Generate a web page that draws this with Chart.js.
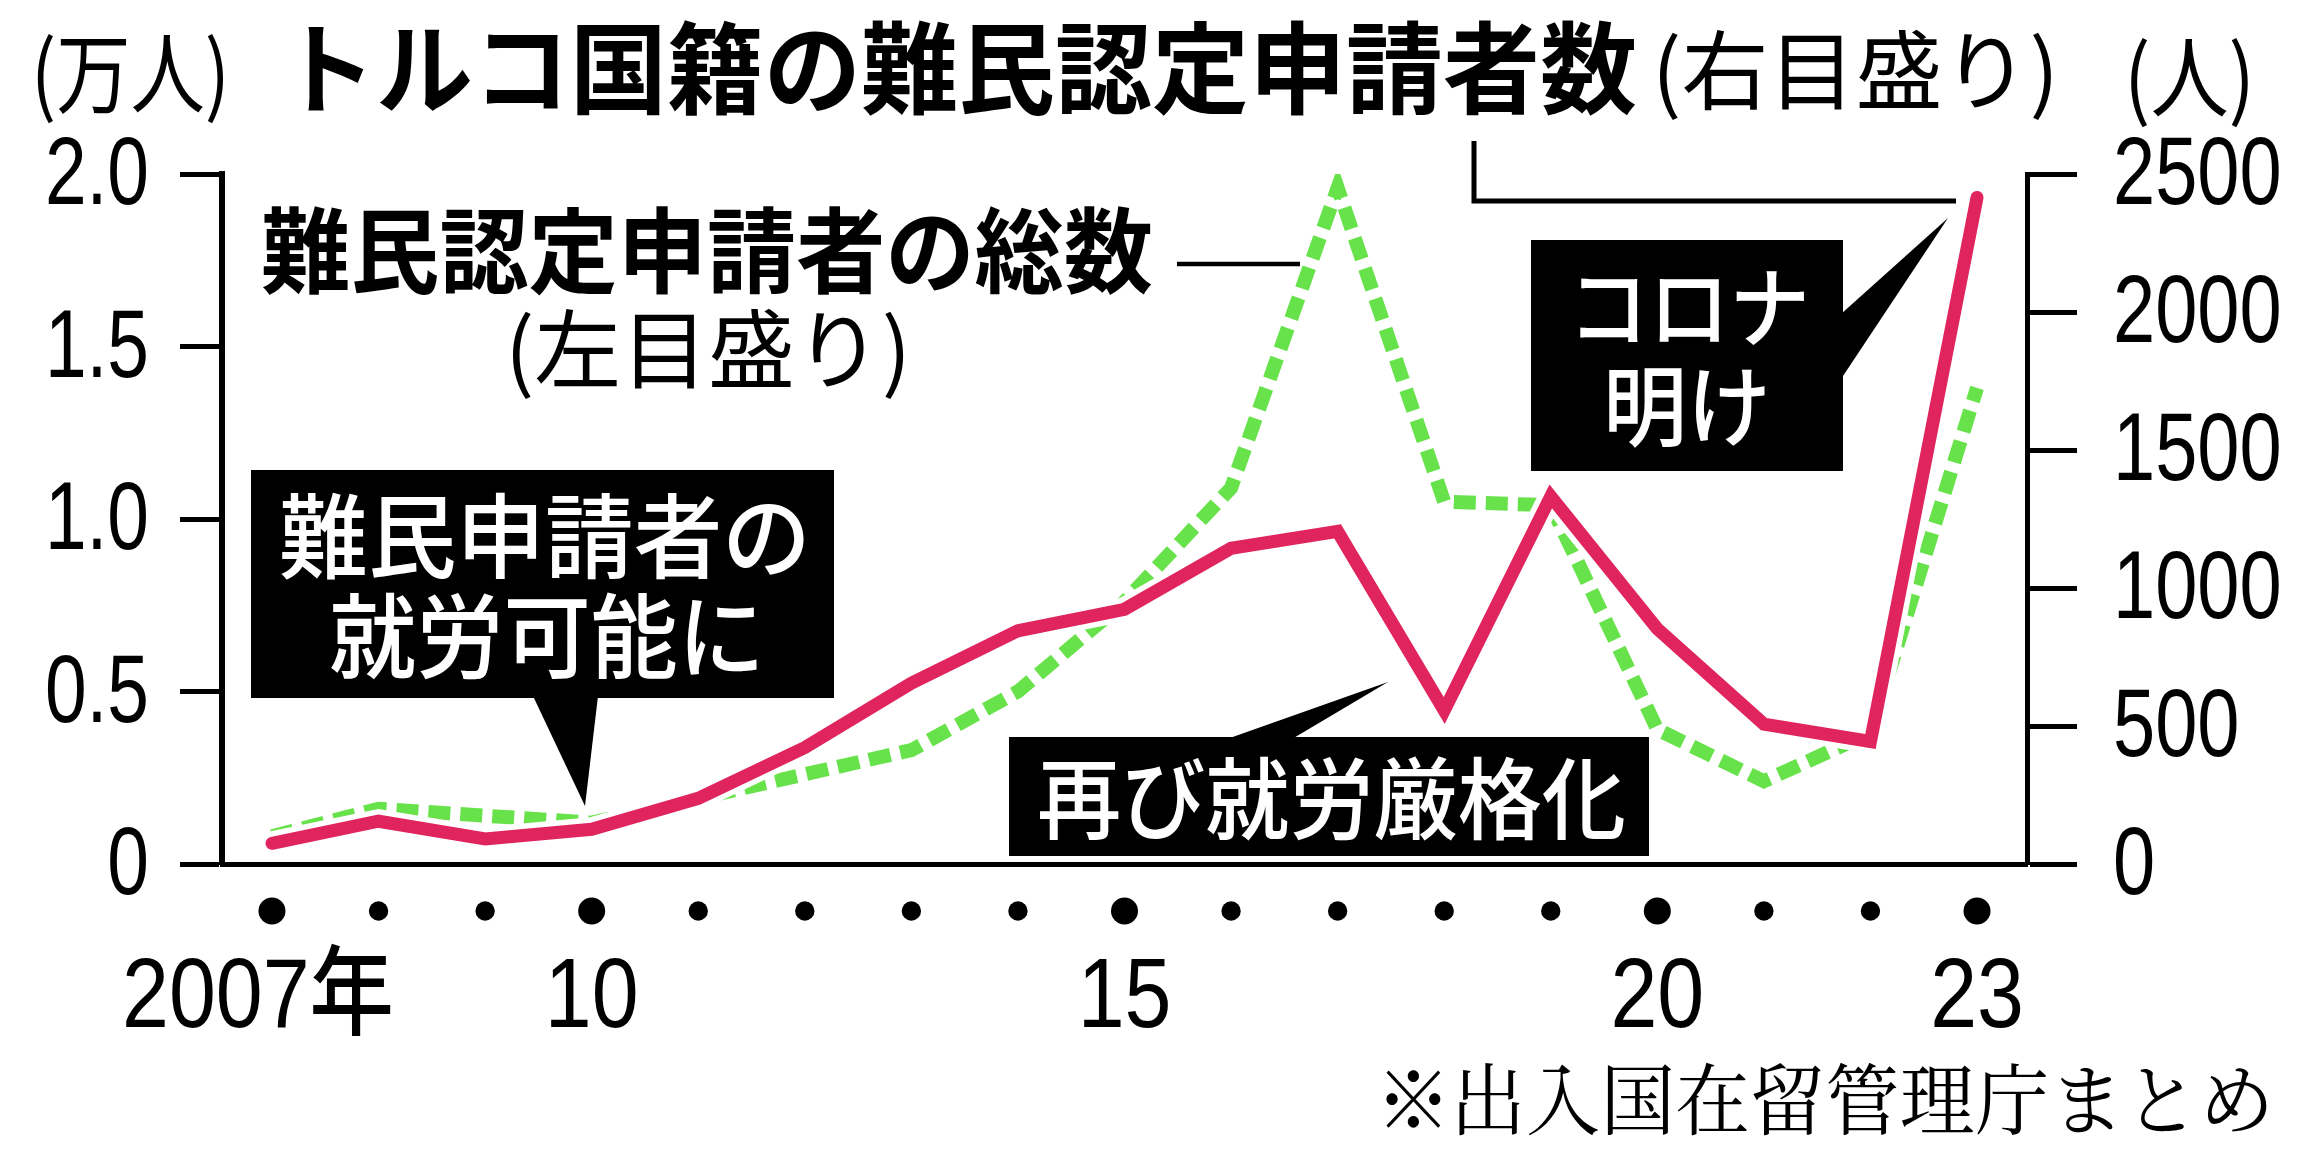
<!DOCTYPE html>
<html lang="ja">
<head>
<meta charset="utf-8">
<title>トルコ国籍の難民認定申請者数</title>
<script src="https://cdn.jsdelivr.net/npm/chart.js@4.4.1/dist/chart.umd.min.js"></script>
<style>
    html, body { margin: 0; padding: 0; background: #fff; }
    #contenedor { width: 2303px; height: 1158px; position: relative; }
</style>
</head>
<body>
<div id="contenedor"><canvas id="grafica"></canvas></div>
<script>
// Años del eje horizontal
var anios = [2007, 2008, 2009, 2010, 2011, 2012, 2013, 2014, 2015, 2016, 2017, 2018, 2019, 2020, 2021, 2022, 2023];
var etiquetasAnio = ['2007年', '', '', '10', '', '', '', '', '15', '', '', '', '', '20', '', '', '23'];
var aniosGrandes = [2007, 2010, 2015, 2020, 2023];

// 難民認定申請者の総数 (万人, eje izquierdo)
var totalSolicitantes = [0.08, 0.16, 0.14, 0.12, 0.19, 0.26, 0.33, 0.50, 0.76, 1.09, 1.96, 1.05, 1.04, 0.39, 0.24, 0.38, 1.38];
// トルコ国籍 (人, eje derecho)
var turquia = [75, 155, 91, 126, 238, 422, 655, 845, 923, 1144, 1205, 556, 1332, 852, 507, 444, 2415];

// Marcas de los ejes
var ticksIzq = [0, 0.5, 1, 1.5, 2];
var etiquetasIzq = ['0', '0.5', '1.0', '1.5', '2.0'];
var ticksDer = [0, 500, 1000, 1500, 2000, 2500];
var etiquetasDer = ['0', '500', '1000', '1500', '2000', '2500'];

var JP = '"Noto Sans CJK JP", sans-serif';
var NUM = '"Liberation Sans", "Noto Sans CJK JP", sans-serif';

function puntos(valores) {
    return anios.map(function (a, i) { return { x: a, y: valores[i] }; });
}

// Dibuja texto comprimido horizontalmente, centrado en yCentro
function dibujarTexto(ctx, texto, x, yCentro, tam, peso, familia, color, escX, alinear, centro) {
    ctx.save();
    ctx.font = peso + ' ' + tam + 'px ' + familia;
    ctx.fillStyle = color;
    ctx.textAlign = 'left';
    ctx.textBaseline = 'alphabetic';
    var ancho = ctx.measureText(texto).width * escX;
    var x0 = x;
    if (alinear === 'center') x0 = x - ancho / 2;
    if (alinear === 'right') x0 = x - ancho;
    ctx.translate(x0, yCentro + tam * centro);
    ctx.scale(escX, 1);
    ctx.fillText(texto, 0, 0);
    ctx.restore();
}

// Texto japonés ajustado a un ancho dado
function textoAncho(ctx, texto, x, yCentro, tam, peso, color, ancho, familia) {
    ctx.save();
    ctx.font = peso + ' ' + tam + 'px ' + (familia || JP);
    var esc = ancho / ctx.measureText(texto).width;
    ctx.restore();
    dibujarTexto(ctx, texto, x, yCentro, tam, peso, familia || JP, color, esc, 'left', 0.38);
}

function poligono(ctx, pts) {
    ctx.beginPath();
    ctx.moveTo(pts[0][0], pts[0][1]);
    for (var i = 1; i < pts.length; i++) ctx.lineTo(pts[i][0], pts[i][1]);
    ctx.closePath();
    ctx.fill();
}

var anotaciones = {
    id: 'anotaciones',
    afterDraw: function (chart) {
        var ctx = chart.ctx;
        var sx = chart.scales.x, sy = chart.scales.y, sy2 = chart.scales.y2;

        // Etiquetas de los ejes verticales
        ticksIzq.forEach(function (v, i) {
            dibujarTexto(ctx, etiquetasIzq[i], 149, sy.getPixelForValue(v) - 4, 96, 'normal', NUM, '#000', 0.78, 'right', 0.358);
        });
        ticksDer.forEach(function (v, i) {
            dibujarTexto(ctx, etiquetasDer[i], 2113, sy2.getPixelForValue(v) - 4, 96, 'normal', NUM, '#000', 0.79, 'left', 0.358);
        });

        // Puntos y etiquetas de los años
        ctx.fillStyle = '#000';
        anios.forEach(function (a, i) {
            var px = sx.getPixelForValue(a);
            var r = aniosGrandes.indexOf(a) >= 0 ? 13.5 : 9.7;
            ctx.beginPath();
            ctx.arc(px, 911, r, 0, Math.PI * 2);
            ctx.fill();
            if (etiquetasAnio[i]) {
                var desp = i === 0 ? -14 : 0;
                dibujarTexto(ctx, etiquetasAnio[i], px + desp, 992, 98, '500', NUM, '#000', 0.86, 'center', 0.358);
            }
        });

        // Título
        textoAncho(ctx, '(万人)', 31, 73, 88, 'normal', '#000', 199);
        textoAncho(ctx, 'トルコ国籍の難民認定申請者数', 279, 68, 100, 'bold', '#000', 1358);
        textoAncho(ctx, '(右目盛り)', 1652, 70, 86, 'normal', '#000', 407);
        textoAncho(ctx, '(人)', 2124, 77, 88, 'normal', '#000', 131);

        ctx.strokeStyle = '#000';
        ctx.lineWidth = 5;
        ctx.beginPath();
        ctx.moveTo(1474, 141);
        ctx.lineTo(1474, 201);
        ctx.lineTo(1956, 201);
        ctx.stroke();

        // Leyenda del total
        textoAncho(ctx, '難民認定申請者の総数', 261, 251, 93, 'bold', '#000', 892);
        textoAncho(ctx, '(左目盛り)', 505, 349, 86, 'normal', '#000', 406);
        ctx.lineWidth = 4.6;
        ctx.beginPath();
        ctx.moveTo(1177, 264);
        ctx.lineTo(1300, 264);
        ctx.stroke();

        // Cajas negras
        ctx.fillStyle = '#000';
        ctx.fillRect(251, 470, 583, 228);
        poligono(ctx, [[533, 696], [598, 696], [585, 806]]);
        textoAncho(ctx, '難民申請者の', 279, 536, 92, '500', '#fff', 532);
        textoAncho(ctx, '就労可能に', 329, 636, 92, '500', '#fff', 436);

        ctx.fillStyle = '#000';
        ctx.fillRect(1009, 737, 640, 119);
        poligono(ctx, [[1227, 739], [1292, 739], [1388, 682]]);
        textoAncho(ctx, '再び就労厳格化', 1037, 798, 89, '500', '#fff', 589);

        ctx.fillStyle = '#000';
        ctx.fillRect(1531, 240, 312, 231);
        poligono(ctx, [[1841, 314], [1948, 218], [1841, 379]]);
        textoAncho(ctx, 'コロナ', 1568, 307, 88, '500', '#fff', 242);
        textoAncho(ctx, '明け', 1603, 406, 88, '500', '#fff', 168);

        // Fuente
        textoAncho(ctx, '※出入国在留管理庁まとめ', 1376, 1099, 78, 'normal', '#000', 898,
            '"Noto Serif CJK JP", "Noto Sans CJK JP", serif');
    }
};

var ctx = document.getElementById('grafica').getContext('2d');
var grafica = new Chart(ctx, {
    type: 'line',
    data: {
        datasets: [{
            label: 'トルコ国籍',
            data: puntos(turquia),
            yAxisID: 'y2',
            borderColor: '#E0245E',
            borderWidth: 13,
            borderCapStyle: 'round',
            borderJoinStyle: 'miter',
            pointRadius: 0,
            tension: 0,
            order: 1,
        }, {
            label: 'borde',
            data: puntos(turquia),
            yAxisID: 'y2',
            borderColor: '#ffffff',
            borderWidth: 24,
            borderCapStyle: 'round',
            borderJoinStyle: 'miter',
            pointRadius: 0,
            tension: 0,
            order: 2,
        }, {
            label: '難民認定申請者の総数',
            data: puntos(totalSolicitantes),
            yAxisID: 'y',
            borderColor: '#68E24B',
            borderWidth: 14,
            borderDash: [22, 10],
            borderCapStyle: 'butt',
            borderJoinStyle: 'miter',
            pointRadius: 0,
            tension: 0,
            order: 3,
        }],
    },
    options: {
        responsive: true,
        maintainAspectRatio: false,
        animation: false,
        devicePixelRatio: 1,
        layout: { padding: { top: 174, left: 0, right: 0, bottom: 0 } },
        plugins: {
            legend: { display: false },
            tooltip: { enabled: false },
        },
        scales: {
            x: {
                type: 'linear',
                min: 2006.531,
                max: 2023.469,
                afterBuildTicks: function (s) { s.ticks = anios.map(function (a) { return { value: a }; }); },
                afterFit: function (s) { s.height = 294; },
                ticks: { display: false },
                grid: { display: true, drawOnChartArea: false, drawTicks: false },
                border: { display: true, color: '#000', width: 5 },
            },
            y: {
                position: 'left',
                min: 0,
                max: 2,
                afterBuildTicks: function (s) { s.ticks = ticksIzq.map(function (v) { return { value: v }; }); },
                afterFit: function (s) { s.width = 222; },
                ticks: { display: false },
                grid: { drawOnChartArea: false, drawTicks: true, tickLength: 42, tickWidth: 5, tickColor: '#000', color: '#000' },
                border: { display: true, color: '#000', width: 6 },
            },
            y2: {
                position: 'right',
                min: 0,
                max: 2500,
                afterBuildTicks: function (s) { s.ticks = ticksDer.map(function (v) { return { value: v }; }); },
                afterFit: function (s) { s.width = 276; },
                ticks: { display: false },
                grid: { drawOnChartArea: false, drawTicks: true, tickLength: 50, tickWidth: 5, tickColor: '#000', color: '#000' },
                border: { display: true, color: '#000', width: 5 },
            },
        },
    },
    plugins: [anotaciones],
});
</script>
</body>
</html>
